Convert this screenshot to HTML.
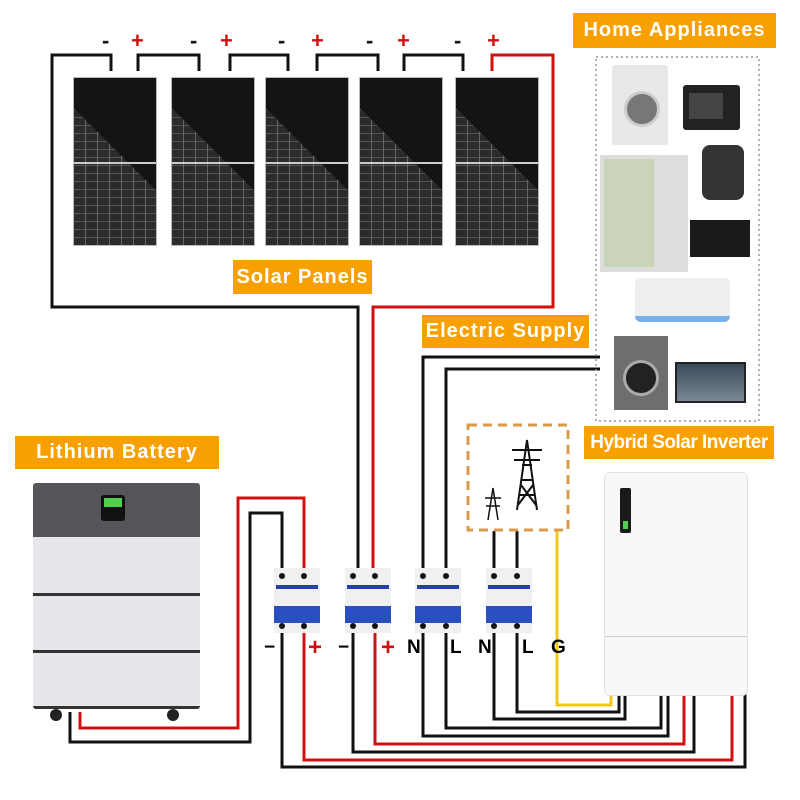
<!DOCTYPE html>
<html><head><meta charset="utf-8"><style>
body{margin:0;width:800px;height:800px;background:#fff;overflow:hidden;position:relative;font-family:"Liberation Sans",sans-serif}
.lbl{position:absolute;background:#f8a000;color:#fff;font-weight:bold;font-size:20px;letter-spacing:1px;display:flex;align-items:center;justify-content:center;white-space:nowrap}
.panel{position:absolute;top:77px;width:84px;height:169px;background:#2b2b2b;
background-image:linear-gradient(to bottom,transparent 84px,#ccc 84px,#ccc 86px,transparent 86px),
linear-gradient(225deg,#141414 45%,transparent 45%),
repeating-linear-gradient(90deg,transparent 0 11px,#666 11px 12px),
repeating-linear-gradient(0deg,transparent 0 7px,#555 7px 8px);border:1px solid #bbb;box-sizing:border-box}
.brk{position:absolute;top:568px;width:46px;height:65px;background:#f0f0f0}
.brk .s{position:absolute;top:17px;left:2px;right:2px;height:4px;background:#2540a8}
.brk .b{position:absolute;top:38px;left:0;right:0;height:17px;background:#2a4fc0}
.brk .d{position:absolute;width:6px;height:6px;border-radius:3px;background:#111}
</style></head><body>
<svg width="800" height="800" style="position:absolute;left:0;top:0" fill="none" stroke-width="3">
<!-- panel wiring -->
<g stroke="#111">
<polyline points="111,71 111,55 52,55 52,307 358,307 358,576"/>
<polyline points="138,71 138,55 199,55 199,71"/>
<polyline points="230,71 230,55 288,55 288,71"/>
<polyline points="317,71 317,55 378,55 378,71"/>
<polyline points="404,71 404,55 463,55 463,71"/>
</g>
<polyline stroke="#d01010" points="492,71 492,55 553,55 553,307 373,307 373,576"/>
<!-- grid supply wires -->
<g stroke="#111">
<polyline points="423,576 423,357 600,357"/>
<polyline points="446,576 446,369 600,369"/>
<polyline points="494,531 494,576"/>
<polyline points="517,531 517,576"/>
<!-- battery -->
<polyline points="70,712 70,742 250,742 250,513 282,513 282,576"/>
</g>
<polyline stroke="#d01010" points="80,712 80,728 238,728 238,498 304,498 304,576"/>
<!-- bottom wires -->
<polyline stroke="#f2c81a" points="557,531 557,705 611,705 611,694"/>
<g stroke="#111">
<polyline points="494,626 494,719 625,719 625,694"/>
<polyline points="517,626 517,712 619,712 619,694"/>
<polyline points="446,626 446,728 661,728 661,694"/>
<polyline points="423,626 423,736 668,736 668,694"/>
<polyline points="353,626 353,752 694,752 694,694"/>
<polyline points="282,626 282,767 745,767 745,694"/>
</g>
<polyline stroke="#d01010" points="375,626 375,744 684,744 684,694"/>
<polyline stroke="#d01010" points="304,626 304,760 732,760 732,694"/>
<!-- tower box -->
<rect x="468" y="425" width="100" height="105" stroke="#d99a4a" stroke-dasharray="9,6"/>
<g stroke="#111" stroke-width="2">
<path d="M517,510 L527,440 L537,510 M521,480 L533,480 M522,465 L532,465 M512,450 L542,450 M514,460 L540,460 M520,495 L534,495 M518,505 L533,485 M536,505 L521,485"/>
<path d="M488,520 L493,488 L498,520 M485,498 L501,498 M486,506 L500,506" stroke-width="1.5"/>
</g>
<!-- appliance box -->
<rect x="596" y="57" width="163" height="364" stroke="#999" stroke-width="1.5" stroke-dasharray="2,3"/>
</svg>
<!-- panels -->
<div class="panel" style="left:73px"></div>
<div class="panel" style="left:171px"></div>
<div class="panel" style="left:265px"></div>
<div class="panel" style="left:359px"></div>
<div class="panel" style="left:455px"></div>
<div style="position:absolute;top:28px;left:0;font-size:22px;font-weight:bold">
<span style="position:absolute;left:102px;color:#111">-</span><span style="position:absolute;left:131px;color:#d01010">+</span>
<span style="position:absolute;left:190px;color:#111">-</span><span style="position:absolute;left:220px;color:#d01010">+</span>
<span style="position:absolute;left:278px;color:#111">-</span><span style="position:absolute;left:311px;color:#d01010">+</span>
<span style="position:absolute;left:366px;color:#111">-</span><span style="position:absolute;left:397px;color:#d01010">+</span>
<span style="position:absolute;left:454px;color:#111">-</span><span style="position:absolute;left:487px;color:#d01010">+</span>
</div>
<div class="lbl" style="left:233px;top:260px;width:139px;height:34px">Solar Panels</div>
<div class="lbl" style="left:573px;top:13px;width:203px;height:35px">Home Appliances</div>
<div class="lbl" style="left:422px;top:315px;width:167px;height:33px">Electric Supply</div>
<div class="lbl" style="left:584px;top:426px;width:190px;height:33px;font-size:19px;letter-spacing:-0.5px">Hybrid Solar Inverter</div>
<div class="lbl" style="left:15px;top:436px;width:204px;height:33px">Lithium Battery</div>
<!-- appliances -->
<div style="position:absolute;left:612px;top:65px;width:56px;height:80px;background:#e8e8e8;border-radius:3px"><div style="position:absolute;left:12px;top:26px;width:30px;height:30px;border-radius:50%;background:#777;border:3px solid #ccc"></div></div>
<div style="position:absolute;left:683px;top:85px;width:57px;height:45px;background:#222;border-radius:3px"><div style="position:absolute;left:6px;top:8px;width:34px;height:26px;background:#444"></div></div>
<div style="position:absolute;left:600px;top:155px;width:88px;height:117px;background:#ddd"><div style="position:absolute;left:4px;top:4px;width:50px;height:108px;background:#c9d4b8"></div></div>
<div style="position:absolute;left:702px;top:145px;width:42px;height:55px;background:#333;border-radius:8px"></div>
<div style="position:absolute;left:690px;top:220px;width:60px;height:37px;background:#1a1a1a"></div>
<div style="position:absolute;left:635px;top:278px;width:95px;height:38px;background:#eee;border-radius:6px;border-bottom:6px solid #7ab0e8"></div>
<div style="position:absolute;left:614px;top:336px;width:54px;height:74px;background:#6e6e6e"><div style="position:absolute;left:9px;top:24px;width:30px;height:30px;border-radius:50%;background:#222;border:3px solid #aaa"></div></div>
<div style="position:absolute;left:675px;top:362px;width:71px;height:41px;background:linear-gradient(#3b4a5a,#7a8896);border:2px solid #222;box-sizing:border-box"></div>
<!-- battery -->
<div style="position:absolute;left:33px;top:483px;width:167px;height:226px;background:#e6e7ea;border-radius:3px;overflow:hidden">
<div style="height:54px;background:#555659"></div>
<div style="position:absolute;top:110px;left:0;right:0;height:3px;background:#333"></div>
<div style="position:absolute;top:167px;left:0;right:0;height:3px;background:#333"></div>
<div style="position:absolute;bottom:0;left:0;right:0;height:3px;background:#333"></div>
</div>
<div style="position:absolute;left:101px;top:495px;width:24px;height:26px;background:#111;border-radius:3px"><div style="margin:3px;height:9px;background:#4ed24e"></div></div>
<div style="position:absolute;left:50px;top:709px;width:12px;height:12px;border-radius:6px;background:#222"></div>
<div style="position:absolute;left:167px;top:709px;width:12px;height:12px;border-radius:6px;background:#222"></div>
<!-- breakers -->
<div class="brk" style="left:274px"><div class="s"></div><div class="b"></div><div class="d" style="left:5px;top:5px"></div><div class="d" style="left:27px;top:5px"></div><div class="d" style="left:5px;top:55px"></div><div class="d" style="left:27px;top:55px"></div></div>
<div class="brk" style="left:345px"><div class="s"></div><div class="b"></div><div class="d" style="left:5px;top:5px"></div><div class="d" style="left:27px;top:5px"></div><div class="d" style="left:5px;top:55px"></div><div class="d" style="left:27px;top:55px"></div></div>
<div class="brk" style="left:415px"><div class="s"></div><div class="b"></div><div class="d" style="left:5px;top:5px"></div><div class="d" style="left:28px;top:5px"></div><div class="d" style="left:5px;top:55px"></div><div class="d" style="left:28px;top:55px"></div></div>
<div class="brk" style="left:486px"><div class="s"></div><div class="b"></div><div class="d" style="left:5px;top:5px"></div><div class="d" style="left:28px;top:5px"></div><div class="d" style="left:5px;top:55px"></div><div class="d" style="left:28px;top:55px"></div></div>
<div style="position:absolute;top:637px;left:0;font-size:19px;font-weight:bold">
<span style="position:absolute;left:264px">−</span><span style="position:absolute;left:308px;color:#d01010;font-size:24px;top:-3px">+</span>
<span style="position:absolute;left:338px">−</span><span style="position:absolute;left:381px;color:#d01010;font-size:24px;top:-3px">+</span>
<span style="position:absolute;left:407px">N</span><span style="position:absolute;left:450px">L</span>
<span style="position:absolute;left:478px">N</span><span style="position:absolute;left:522px">L</span>
<span style="position:absolute;left:551px">G</span>
</div>
<!-- inverter -->
<div style="position:absolute;left:604px;top:472px;width:144px;height:224px;background:#f8f8f8;border:1px solid #e2e2e2;border-radius:6px;box-sizing:border-box">
<div style="position:absolute;top:163px;left:0;right:0;height:1px;background:#ccc"></div>
<div style="position:absolute;left:15px;top:15px;width:11px;height:45px;background:#1a1a1a;border-radius:2px"><div style="position:absolute;left:3px;top:33px;width:5px;height:8px;background:#4ed24e"></div></div>
</div>
</body></html>
